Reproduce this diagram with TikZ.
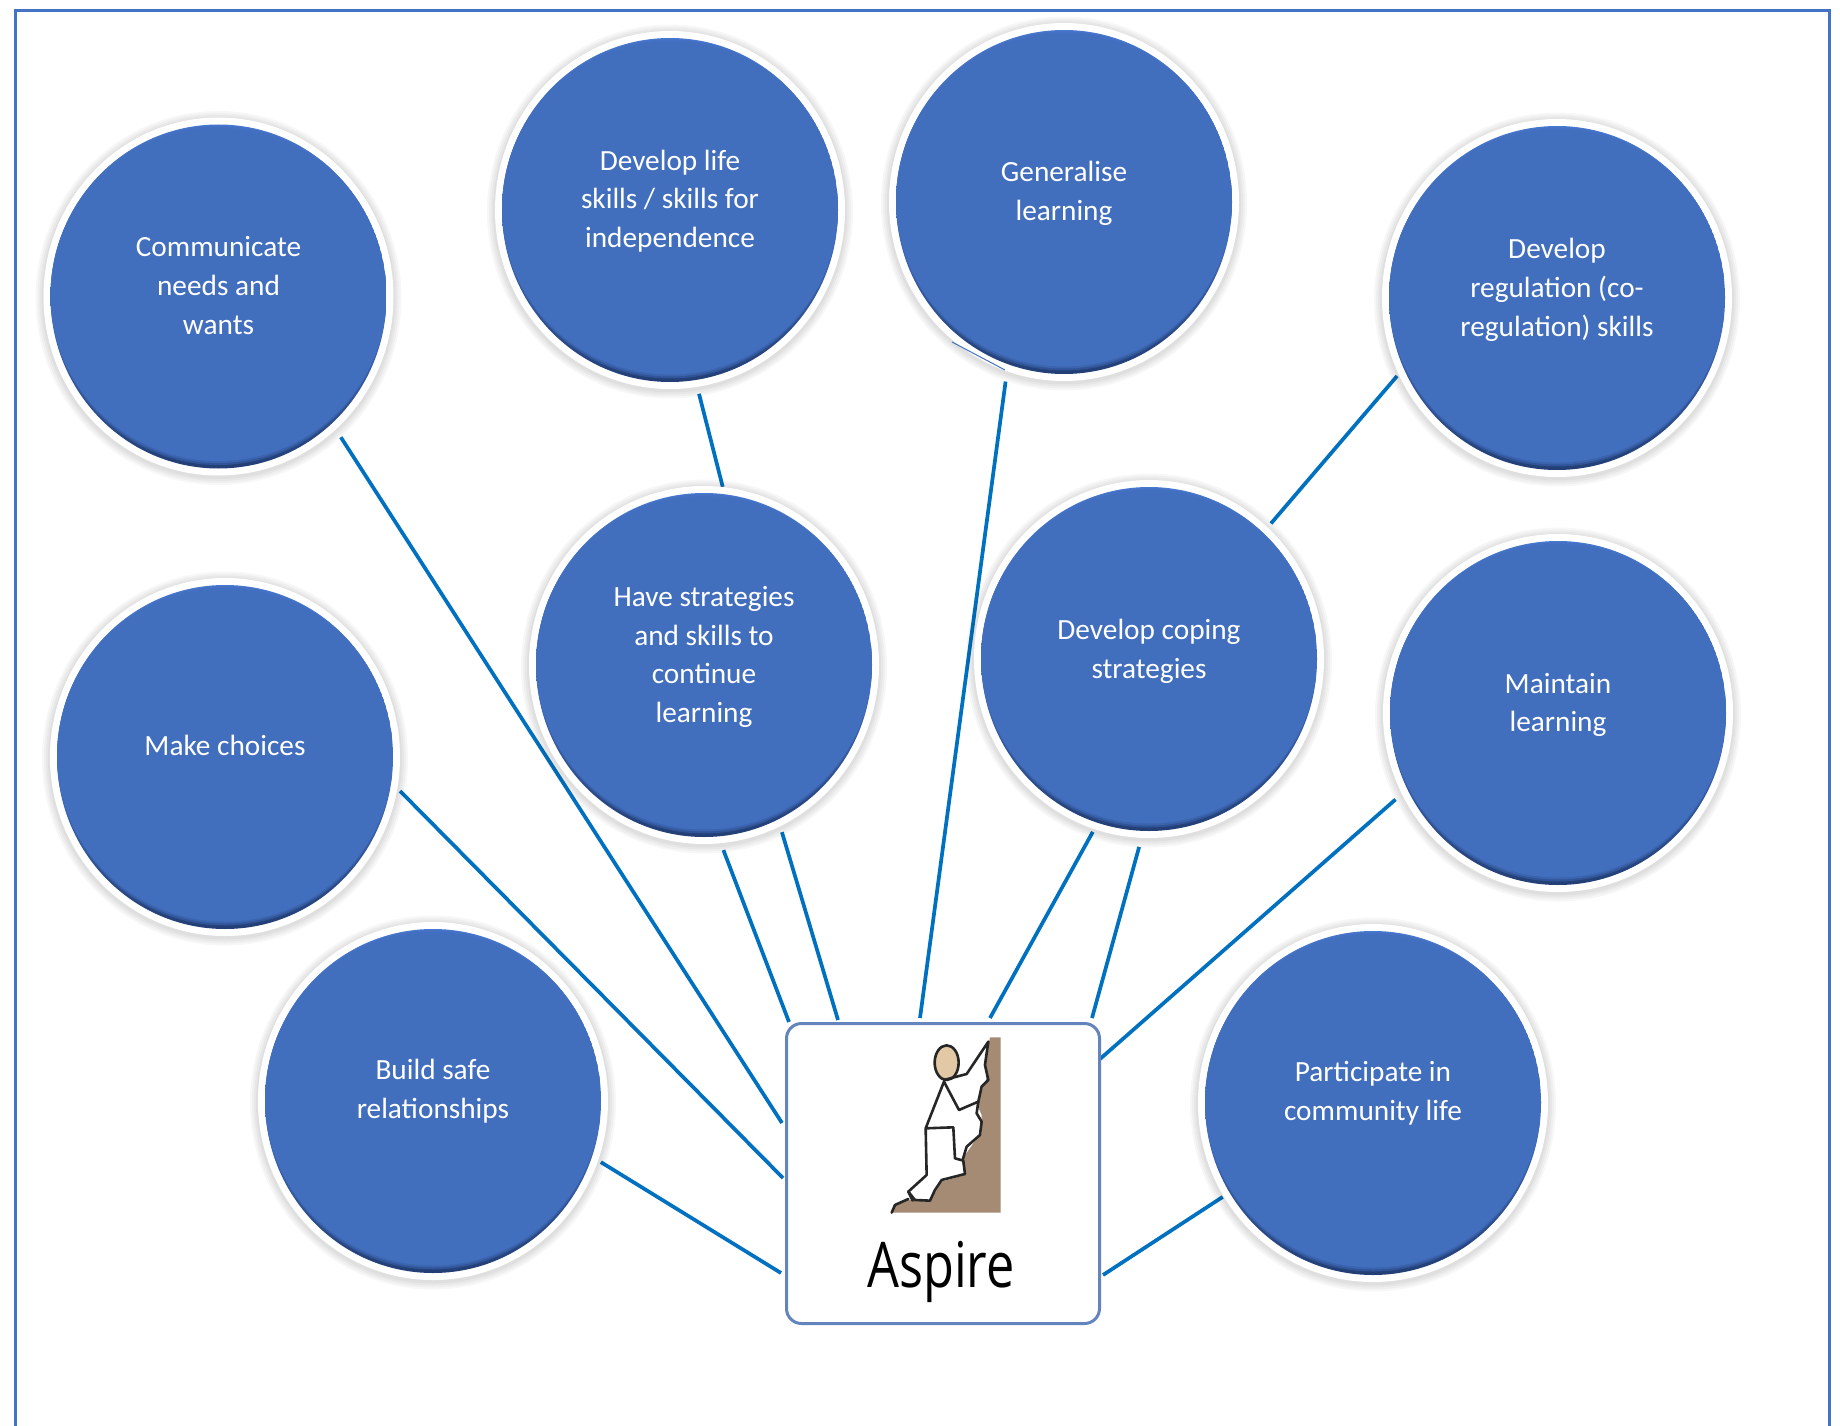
\documentclass[tikz,border=0pt]{standalone}
\usepackage{fontspec}
\usepackage{graphicx}
\setmainfont{Carlito}
\newfontfamily\aspirefont{Open Sans}
\usetikzlibrary{shapes.geometric}
\definecolor{framecol}{HTML}{4472C4}
\definecolor{linkcol}{HTML}{0070C0}
\definecolor{bubmain}{HTML}{426EBE}
\definecolor{bubtop}{HTML}{4A7CD4}
\definecolor{bubbot}{HTML}{223E74}
\definecolor{boxcol}{HTML}{6484BE}
\definecolor{cliff}{HTML}{A58B73}
\definecolor{skin}{HTML}{E3C8A6}
\pgfdeclarelayer{bg}
\pgfsetlayers{bg,main}
\tikzset{
  x=1pt,y=-1pt,
  bubble/.style={ellipse,inner sep=0pt,minimum width=350pt,minimum height=358pt},
  bubtext/.style={text=white,align=center,font=\fontsize{29.3}{38.7}\selectfont,inner sep=0pt},
  link/.style={draw=linkcol,line width=3.7pt},
  figline/.style={draw=black!85,line width=2.6pt,line join=round,line cap=round},
}
\newcommand{\bubblenode}[5]{%
  \begin{scope}[shift={(#2,#3)}]
    \foreach \hr in {8,6,4,2}{\fill[black,opacity=.03] (0,1.5) ellipse ({175+\hr} and {179+\hr});}
    \fill[white] (0,0) ellipse (175 and 179);
    \begin{scope}
      \clip (0,0) ellipse (168 and 172);
      \shade[top color=bubtop,bottom color=bubbot,middle color=bubmain] (-170,-174) rectangle (170,174);
      \fill[bubmain,opacity=.45] (0,-1.5) ellipse (168 and 170);
      \fill[bubmain,opacity=.6] (0,-2) ellipse (168 and 168.5);
      \fill[bubmain] (0,-2) ellipse (168 and 166.5);
    \end{scope}
  \end{scope}
  \node[bubble] (#1) at (#2,#3) {};
  \node[bubtext] (#1t) at ([yshift=#5pt]#1.center) {#4};
}
\newcommand{\conn}[4]{\draw[link] ([shift={(#2:#3pt)}]#1.#2) -- ([shift={#4}]box.north west);}
\begin{document}
\begin{tikzpicture}
\useasboundingbox (0,0) rectangle (1840,1426);
\bubblenode{comm}{218.5}{296.5}{Communicate\\needs and\\wants}{11}
\bubblenode{life}{670}{210}{Develop life\\skills / skills for\\independence}{9}
\bubblenode{gen}{1064}{202}{Generalise\\learning}{9}
\bubblenode{reg}{1557}{298}{Develop\\regulation (co-\\regulation) skills}{8}
\bubblenode{strat}{704}{665}{Have strategies\\and skills to\\continue\\learning}{8}
\bubblenode{cop}{1149}{659}{Develop coping\\strategies}{8}
\bubblenode{maint}{1558}{713}{Maintain\\learning}{8}
\bubblenode{make}{225}{757}{Make choices}{12}
\bubblenode{build}{433}{1101}{Build safe\\relationships}{10}
\bubblenode{part}{1373}{1103}{Participate in\\community life}{10}
\node[draw=boxcol,line width=3pt,fill=white,rounded corners=15pt,minimum width=313pt,minimum height=300pt,inner sep=0pt] (box) at (943,1173.5) {};
\begin{scope}[shift={(760,1000)},x=.3333pt,y=-.3333pt]
  \fill[cliff] (395,638) -- (403,618) -- (440,600) -- (455,600) -- (510,605) -- (530,570) -- (545,545) -- (615,525) -- (605,480) -- (640,430) -- (665,400) -- (665,345) -- (650,310) -- (670,260) -- (680,235) -- (675,195) -- (690,112) -- (722,112) -- (722,638) -- cycle;
  \draw[figline,fill=skin] (560,188) ellipse (36 and 52);
  \draw[figline] (552,245) -- (497,385) -- (580,382) -- (585,475) -- (610,482) -- (615,522) -- (545,540) -- (525,570) -- (510,602) -- (465,600) -- (445,575) -- (500,525) -- (497,385);
  \draw[figline] (552,240) -- (620,222) -- (685,125) -- (675,195) -- (685,240) -- (665,260) -- (655,305) -- (597,330) -- (552,245);
  \draw[figline] (655,305) -- (650,340) -- (665,365) -- (660,405) -- (620,440) -- (608,480);
  \draw[figline] (395,638) -- (405,615) -- (445,597);
  \draw[figline] (445,575) -- (458,602);
\end{scope}
\node[font=\aspirefont\fontsize{63}{63}\selectfont,anchor=base,text=black,inner sep=0pt] (aspire) at (941,1287) {\scalebox{.8}[1]{Aspire}};
\begin{pgfonlayer}{bg}
  \fill[white] (0,0) rectangle (1840,1426);
  \draw[draw=framecol,line width=3pt] (15.5,1426) -- (15.5,11) -- (1829,11) -- (1829,1426);
  \conn{comm}{-49}{9}{(-3,101)}
  \conn{make}{-11.4}{3}{(-2,156)}
  \conn{build}{-20.8}{3}{(-4,251)}
  \conn{strat}{-84.2}{7}{(4,0)}
  \conn{strat}{-65.2}{6}{(53,-2)}
  \conn{gen}{-108.4}{10}{(135,-4)}
  \conn{cop}{-108.8}{3}{(205,-4)}
  \conn{cop}{-93.2}{9}{(307,-4)}
  \conn{maint}{208.3}{8}{(315,37)}
  \conn{part}{212}{1}{(318,253)}
  \draw[link] ([shift={(-81.7:7pt)}]life.-81.7) -- ([shift={(84:0pt)}]strat.84);
  \draw[link] ([shift={(206.3:2pt)}]reg.206.3) -- ([shift={(48.6:5pt)}]cop.48.6);
\end{pgfonlayer}
\coordinate (genA) at (952,342);
\coordinate (genB) at (1005,370);
\draw[framecol,line width=1pt] (genA) -- (genB);
\end{tikzpicture}
\end{document}
